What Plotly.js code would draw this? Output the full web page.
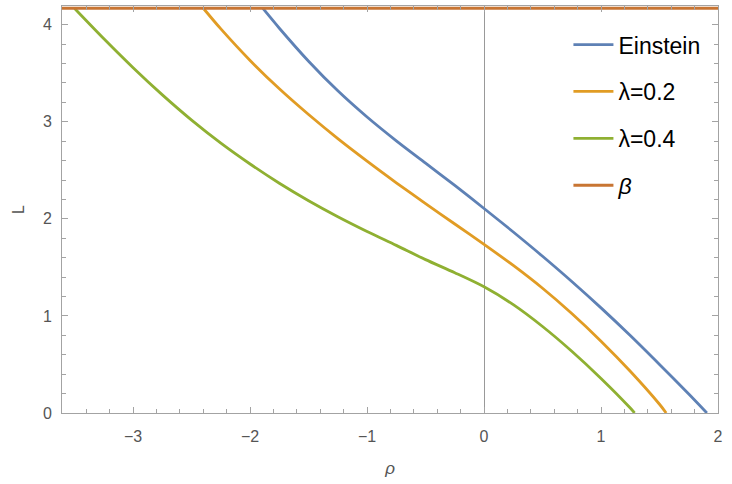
<!DOCTYPE html>
<html>
<head>
<meta charset="utf-8">
<script src="https://cdn.plot.ly/plotly-3.0.1.min.js"></script>
<style>html,body{margin:0;padding:0;background:#fff}#chart{width:732px;height:484px}</style>
</head>
<body>
<div id="chart"></div>
<script>
// Data
const einsteinRho = [-1.892, -1.75, -1.5, -1.25, -1.0, -0.75, -0.5, -0.25, 0, 0.25, 0.5, 0.75, 1.0, 1.25, 1.5, 1.75, 1.905];
const einsteinL   = [4.17, 3.964, 3.624, 3.319, 3.049, 2.804, 2.574, 2.344, 2.107, 1.865, 1.615, 1.355, 1.083, 0.798, 0.50, 0.195, 0];
const lam02Rho = [-2.40, -2.25, -2.0, -1.75, -1.5, -1.25, -1.0, -0.75, -0.5, -0.25, 0, 0.25, 0.5, 0.75, 1.0, 1.25, 1.5, 1.557];
const lam02L   = [4.17, 3.957, 3.632, 3.34, 3.075, 2.827, 2.595, 2.372, 2.157, 1.947, 1.737, 1.52, 1.285, 1.025, 0.74, 0.43, 0.09, 0];
const lam04Rho = [-3.50, -3.25, -3.0, -2.75, -2.5, -2.25, -2.0, -1.75, -1.5, -1.25, -1.0, -0.75, -0.5, -0.25, 0, 0.25, 0.5, 0.75, 1.0, 1.25, 1.287];
const lam04L   = [4.167, 3.855, 3.557, 3.277, 3.017, 2.78, 2.565, 2.367, 2.187, 2.022, 1.87, 1.727, 1.58, 1.445, 1.30, 1.116, 0.891, 0.636, 0.356, 0.051, 0];
const betaRho = [-3.608, 2.0];
const betaL   = [4.17, 4.17];
const seriesNames = ["Einstein", "λ=0.2", "λ=0.4", "<i>β</i>"];
const xTickVals = [-3, -2, -1, 0, 1, 2];
const yTickVals = [0, 1, 2, 3, 4];

const colors = ["#5E81B5", "#E19C24", "#8FB032", "#C87533"];
const xs = [einsteinRho, lam02Rho, lam04Rho, betaRho];
const ys = [einsteinL, lam02L, lam04L, betaL];

const traces = xs.map((x, i) => ({
  x: x, y: ys[i], type: "scatter", mode: "lines", name: seriesNames[i],
  legendgroup: "g" + i,
  line: {color: colors[i], width: 2.8, shape: "spline", smoothing: 0.8},
  cliponaxis: true
}));

const axisCommon = {
  showgrid: false, showline: true, linecolor: "#a3a3a3", linewidth: 1,
  mirror: "ticks", ticks: "inside", ticklen: 6, tickcolor: "#a3a3a3", tickwidth: 1,
  tickfont: {family: "Liberation Sans, Arial, sans-serif", size: 16, color: "#555"},
  minor: {ticks: "inside", ticklen: 4, tickcolor: "#a3a3a3", tickwidth: 1, dtick: 0.2, showgrid: false},
  tickmode: "array"
};

const layout = {
  width: 732, height: 484,
  margin: {l: 62, r: 14, t: 6, b: 71},
  paper_bgcolor: "#fff", plot_bgcolor: "#fff",
  showlegend: true,
  legend: {
    x: 0.772, y: 0.958, xanchor: "left", yanchor: "top",
    font: {family: "Liberation Sans, Arial, sans-serif", size: 23, color: "#000"},
    bgcolor: "rgba(255,255,255,0)", borderwidth: 0,
    traceorder: "grouped", tracegroupgap: 14, itemwidth: 40
  },
  xaxis: Object.assign({}, axisCommon, {
    range: [-3.608, 2.0], tickvals: xTickVals, ticklabelstandoff: 9,
    zeroline: true, zerolinecolor: "#999", zerolinewidth: 1,
    title: {text: "<i>ρ</i>", font: {family: "Liberation Sans, Arial, sans-serif", size: 17, color: "#555"}, standoff: 17}
  }),
  yaxis: Object.assign({}, axisCommon, {
    range: [0, 4.193], tickvals: yTickVals, zeroline: false, ticklabelstandoff: 6,
    title: {text: "L", font: {family: "Liberation Sans, Arial, sans-serif", size: 16, color: "#555"}, standoff: 14}
  })
};

Plotly.newPlot("chart", traces, layout, {staticPlot: true});
</script>
</body>
</html>
